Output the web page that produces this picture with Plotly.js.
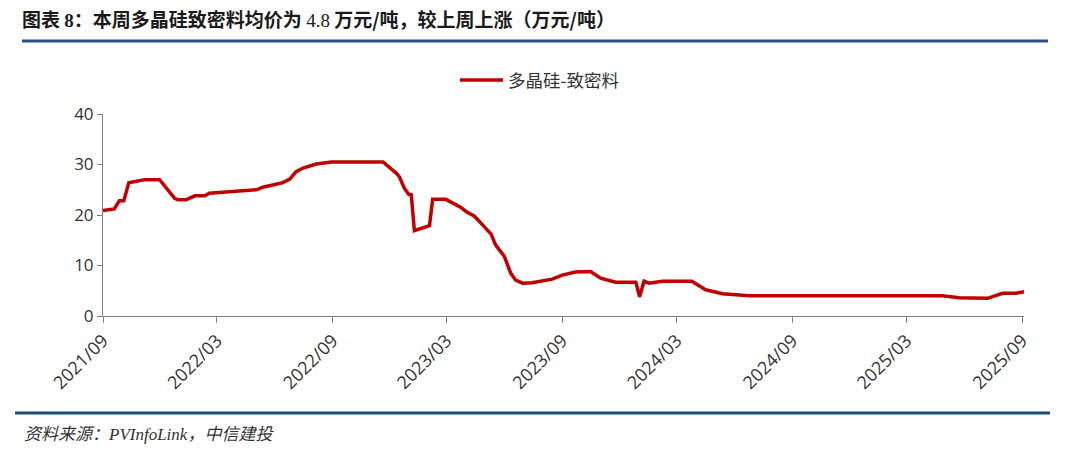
<!DOCTYPE html>
<html>
<head>
<meta charset="utf-8">
<script src="https://cdn.plot.ly/plotly-3.0.1.min.js"></script>
<style>
  html, body { margin: 0; padding: 0; background: #ffffff; }
  #chart { width: 1080px; height: 452px; }
</style>
</head>
<body>
<div id="chart"></div>
<script>
// ---- data ----
var seriesName = '多晶硅-致密料';
var dates = [
  '2021-09-01','2021-09-19','2021-09-27','2021-10-04','2021-10-12','2021-11-06','2021-11-30',
  '2021-12-24','2021-12-29','2022-01-11','2022-01-25','2022-02-10','2022-02-17','2022-03-13',
  '2022-04-03','2022-05-03','2022-05-13','2022-06-14','2022-06-25','2022-07-05','2022-07-16',
  '2022-08-06','2022-08-30','2022-11-20','2022-12-11','2022-12-16','2022-12-24','2022-12-31',
  '2023-01-04','2023-01-09','2023-02-02','2023-02-07','2023-02-28','2023-03-10','2023-03-24',
  '2023-04-01','2023-04-14','2023-04-27','2023-05-11','2023-05-18','2023-06-01','2023-06-11',
  '2023-06-19','2023-06-30','2023-07-15','2023-08-16','2023-09-01','2023-09-22','2023-10-16',
  '2023-11-01','2023-11-25','2023-12-27','2024-01-02','2024-01-09','2024-01-17','2024-02-07',
  '2024-03-25','2024-04-16','2024-05-13','2024-06-03','2024-06-24','2024-09-22','2024-11-14',
  '2025-02-28','2025-04-27','2025-05-24','2025-07-08','2025-08-01','2025-08-22','2025-09-04'
];
var prices = [
  20.9, 21.2, 22.8, 22.8, 26.4, 27.0, 27.0,
  23.3, 23.0, 23.0, 23.8, 23.8, 24.3, 24.5,
  24.7, 25.0, 25.5, 26.4, 27.1, 28.6, 29.3,
  30.1, 30.5, 30.5, 28.3, 27.6, 25.3, 24.1,
  24.0, 16.9, 17.9, 23.1, 23.1, 22.4, 21.5,
  20.7, 19.8, 18.1, 16.2, 14.1, 11.8, 8.5,
  7.1, 6.5, 6.6, 7.3, 8.1, 8.7, 8.8,
  7.5, 6.7, 6.7, 3.8, 6.9, 6.5, 6.9,
  6.9, 5.2, 4.4, 4.2, 4.0, 4.0, 4.0,
  4.0, 4.0, 3.6, 3.5, 4.5, 4.5, 4.8
];
var tickDates  = ['2021-09-01','2022-03-01','2022-09-01','2023-03-01','2023-09-01','2024-03-01','2024-09-01','2025-03-01','2025-09-01'];
var tickLabels = ['2021/09','2022/03','2022/09','2023/03','2023/09','2024/03','2024/09','2025/03','2025/09'];
var yTicks = [0, 10, 20, 30, 40];

var titleText = '<b>图表 <span style="font-family:\'Liberation Serif\',serif">8</span>：本周多晶硅致密料均价为 <span style="font-family:\'Liberation Serif\',serif;font-weight:normal">4.8</span> 万元/吨，较上周上涨（万元/吨）</b>';
var sourceText = '<i>资料来源：<span style="font-family:\'Liberation Serif\',serif">PVInfoLink</span>，中信建投</i>';

var W = 1080, H = 452;
var mL = 103, mR = 56, mT = 114, mB = 136;
var pw = W - mL - mR, ph = H - mT - mB;
function px(x) { return (x - mL) / pw; }
function py(y) { return (H - mB - y) / ph; }

var trace = {
  type: 'scatter',
  mode: 'lines',
  name: seriesName,
  x: dates,
  y: prices,
  line: { color: '#C00000', width: 3.5 },
  hoverinfo: 'x+y'
};

var layout = {
  width: W, height: H,
  margin: { l: mL, r: mR, t: mT, b: mB, pad: 0 },
  paper_bgcolor: '#ffffff',
  plot_bgcolor: '#ffffff',
  font: { family: '"Open Sans", "Noto Sans CJK SC", sans-serif', color: '#333333', size: 15 },
  title: {
    text: titleText,
    xref: 'container', yref: 'container',
    x: 22 / W, xanchor: 'left',
    y: 1 - 20 / H, yanchor: 'middle',
    font: { family: '"Noto Sans CJK SC", sans-serif', size: 19, color: '#1a1a1a' }
  },
  showlegend: true,
  legend: {
    orientation: 'h',
    x: px(455), xanchor: 'left',
    y: py(80), yanchor: 'middle',
    itemwidth: 43,
    font: { family: '"Noto Sans CJK SC", sans-serif', size: 17.5, color: '#333333' },
    bgcolor: 'rgba(0,0,0,0)'
  },
  xaxis: {
    type: 'date',
    range: ['2021-09-01', '2025-09-04'],
    tickmode: 'array',
    tickvals: tickDates,
    ticktext: tickLabels,
    tickangle: -45,
    ticks: 'outside', ticklen: 6, tickwidth: 1, tickcolor: '#808080',
    showline: true, linecolor: '#808080', linewidth: 1,
    showgrid: false, zeroline: false,
    tickfont: { family: '"Open Sans", sans-serif', size: 18, color: '#333333' }
  },
  yaxis: {
    range: [0, 40],
    tickmode: 'array',
    tickvals: yTicks,
    ticks: 'outside', ticklen: 5, tickwidth: 1, tickcolor: '#808080',
    showline: true, linecolor: '#808080', linewidth: 1,
    showgrid: false, zeroline: false,
    tickfont: { family: '"Open Sans", sans-serif', size: 17, color: '#333333' }
  },
  shapes: [
    { type: 'line', xref: 'paper', yref: 'paper', x0: px(22), x1: px(1048), y0: py(41), y1: py(41),
      line: { color: '#2E5189', width: 3 } },
    { type: 'line', xref: 'paper', yref: 'paper', x0: px(15), x1: px(1050), y0: py(413), y1: py(413),
      line: { color: '#1F4E79', width: 3 } }
  ],
  annotations: [
    { text: sourceText, xref: 'paper', yref: 'paper', x: px(22), y: py(432),
      xanchor: 'left', yanchor: 'middle', showarrow: false,
      font: { family: '"Noto Sans CJK SC", sans-serif', size: 17, color: '#333333' } }
  ]
};

Plotly.newPlot('chart', [trace], layout, { displayModeBar: false, staticPlot: true });
</script>
</body>
</html>
